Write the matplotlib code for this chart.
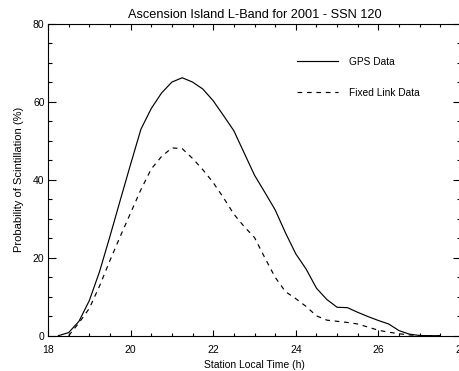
import matplotlib
matplotlib.use("Agg")
import matplotlib.pyplot as plt
from matplotlib.ticker import MultipleLocator

# Data (station local time in hours, probability in %)
gps_time = [18.25, 18.5, 18.75, 19.0, 19.25, 19.5, 19.75, 20.0, 20.25, 20.5,
            20.75, 21.0, 21.25, 21.5, 21.75, 22.0, 22.25, 22.5, 22.75, 23.0,
            23.25, 23.5, 23.75, 24.0, 24.25, 24.5, 24.75, 25.0, 25.25, 25.5,
            25.75, 26.0, 26.25, 26.5, 26.75, 27.0, 27.25, 27.5]
gps_prob = [0.0, 0.8, 3.7, 9.0, 16.5, 25.5, 34.8, 44.0, 53.0, 58.3,
            62.3, 65.1, 66.2, 65.1, 63.3, 60.3, 56.5, 52.6, 46.9, 41.2,
            36.8, 32.3, 26.4, 21.0, 17.1, 12.2, 9.3, 7.3, 7.2, 6.0,
            4.9, 3.9, 3.0, 1.3, 0.4, 0.05, 0.0, 0.0]

fixed_time = [18.5, 18.75, 19.0, 19.25, 19.5, 19.75, 20.0, 20.25, 20.5, 20.75,
              21.0, 21.25, 21.5, 21.75, 22.0, 22.25, 22.5, 22.75, 23.0, 23.25,
              23.5, 23.75, 24.0, 24.25, 24.5, 24.75, 25.0, 25.25, 25.5, 25.75,
              26.0, 26.25, 26.5, 26.75, 27.0, 27.25, 27.5]
fixed_prob = [0.0, 3.3, 7.0, 12.8, 19.3, 25.5, 31.5, 37.5, 42.8, 46.0,
              48.2, 48.0, 45.5, 42.6, 39.3, 35.4, 31.2, 28.0, 25.2, 20.0,
              15.0, 11.3, 9.5, 7.5, 5.1, 4.0, 3.7, 3.4, 3.0, 2.2,
              1.4, 0.9, 0.5, 0.2, 0.0, 0.0, 0.0]

series_labels = ["GPS Data", "Fixed Link Data"]
title = "Ascension Island L-Band for 2001 - SSN 120"

plt.rcParams['font.family'] = ['Liberation Sans', 'DejaVu Sans']

fig = plt.figure(figsize=(4.6, 3.71), dpi=100)
# right edge sits just past the canvas, like the cropped original
ax = fig.add_axes([48 / 460, 35.3 / 371, 413 / 460, 311.7 / 371])

ax.plot(gps_time, gps_prob, color='black', lw=0.85, label=series_labels[0])
ax.plot(fixed_time, fixed_prob, color='black', lw=0.85, dashes=(4, 4),
        label=series_labels[1])

ax.set_xlim(18, 28)
ax.set_ylim(0, 80)
ax.xaxis.set_major_locator(MultipleLocator(2))
ax.xaxis.set_minor_locator(MultipleLocator(0.5))
ax.yaxis.set_major_locator(MultipleLocator(20))
ax.yaxis.set_minor_locator(MultipleLocator(5))

ax.tick_params(axis='both', which='both', direction='in', top=True, right=True,
               labelsize=7.5, width=0.8, color='black')
ax.tick_params(axis='x', which='major', length=4.5, pad=7)
ax.tick_params(axis='x', which='minor', length=2.2)
ax.tick_params(axis='y', which='major', length=5.5, pad=2.5)
ax.tick_params(axis='y', which='minor', length=3)
for s in ax.spines.values():
    s.set_linewidth(0.8)

ax.set_title(title, fontsize=9.2, pad=4.5)
ax.set_xlabel("Station Local Time (h)", fontsize=7.5, labelpad=3)
ax.set_ylabel("Probability of Scintillation (%)", fontsize=8)
ax.yaxis.set_label_coords(-0.058, 0.5)

ax.legend(loc='upper left', bbox_to_anchor=(0.603, 0.894), frameon=False,
          fontsize=7.3, borderpad=0, borderaxespad=0, handlelength=4.0,
          handletextpad=1.1, labelspacing=2.05)

fig.savefig("out.png", dpi=100)
